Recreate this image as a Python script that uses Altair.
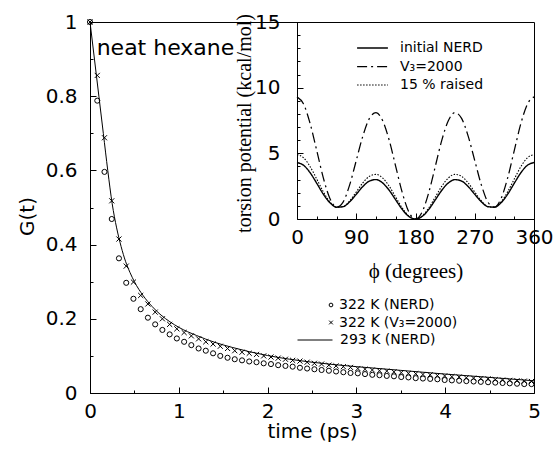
import altair as alt
import pandas as pd

# ---------------- data ----------------
time_ps = [0.000, 0.082, 0.163, 0.245, 0.326, 0.408, 0.489, 0.571, 0.652, 0.734,
           0.815, 0.897, 0.978, 1.060, 1.141, 1.223, 1.304, 1.386, 1.467, 1.549,
           1.630, 1.712, 1.793, 1.875, 1.956, 2.038, 2.119, 2.201, 2.282, 2.364,
           2.445, 2.527, 2.608, 2.690, 2.771, 2.853, 2.934, 3.016, 3.097, 3.179,
           3.260, 3.342, 3.423, 3.505, 3.586, 3.668, 3.749, 3.831, 3.912, 3.994,
           4.075, 4.157, 4.238, 4.320, 4.401, 4.483, 4.564, 4.646, 4.727, 4.809,
           4.890, 4.972]

g_322_nerd = [1.000, 0.788, 0.596, 0.469, 0.363, 0.297, 0.254, 0.226, 0.203, 0.185,
              0.170, 0.158, 0.147, 0.138, 0.129, 0.120, 0.114, 0.107, 0.100, 0.095,
              0.091, 0.088, 0.085, 0.083, 0.080, 0.078, 0.075, 0.073, 0.071, 0.068,
              0.066, 0.064, 0.062, 0.060, 0.058, 0.056, 0.054, 0.053, 0.051, 0.049,
              0.048, 0.046, 0.045, 0.043, 0.042, 0.040, 0.039, 0.038, 0.037, 0.035,
              0.034, 0.033, 0.032, 0.031, 0.030, 0.029, 0.028, 0.027, 0.026, 0.025,
              0.024, 0.024]

g_322_v3 = [1.000, 0.856, 0.688, 0.518, 0.415, 0.342, 0.299, 0.263, 0.240, 0.218,
            0.200, 0.185, 0.173, 0.163, 0.154, 0.146, 0.138, 0.132, 0.126, 0.120,
            0.114, 0.110, 0.107, 0.104, 0.100, 0.097, 0.094, 0.091, 0.088, 0.086,
            0.083, 0.080, 0.078, 0.075, 0.073, 0.071, 0.069, 0.066, 0.064, 0.062,
            0.060, 0.059, 0.057, 0.055, 0.053, 0.052, 0.050, 0.049, 0.047, 0.046,
            0.044, 0.043, 0.041, 0.040, 0.039, 0.038, 0.036, 0.035, 0.034, 0.033,
            0.032, 0.031]

line_time_ps = [0.0, 0.05, 0.1, 0.15, 0.2, 0.25, 0.3, 0.35, 0.4, 0.45, 0.5, 0.6, 0.7,
                0.8, 0.9, 1.0, 1.2, 1.4, 1.6, 1.8, 2.0, 2.5, 3.0, 3.5, 4.0, 4.5, 5.0]
g_293_nerd = [1.000, 0.900, 0.800, 0.700, 0.600, 0.510, 0.445, 0.395, 0.355, 0.325,
              0.300, 0.262, 0.233, 0.210, 0.192, 0.177, 0.155, 0.137, 0.123, 0.111,
              0.101, 0.083, 0.071, 0.061, 0.051, 0.042, 0.033]

phi_deg = [0, 10, 20, 30, 40, 50, 60, 70, 80, 90, 100, 110, 120, 130, 140, 150, 160, 170,
           180, 190, 200, 210, 220, 230, 240, 250, 260, 270, 280, 290, 300, 310, 320,
           330, 340, 350, 360]
v_initial_nerd = [4.30, 4.09, 3.52, 2.72, 1.89, 1.24, 0.90, 0.94, 1.31, 1.88, 2.47, 2.89,
                  3.00, 2.75, 2.19, 1.45, 0.72, 0.19, 0.00, 0.19, 0.72, 1.45, 2.19, 2.75,
                  3.00, 2.89, 2.47, 1.88, 1.31, 0.94, 0.90, 1.24, 1.89, 2.72, 3.52, 4.09,
                  4.30]
v_v3_2000 = [9.30, 8.75, 7.26, 5.21, 3.13, 1.56, 0.90, 1.29, 2.60, 4.45, 6.31, 7.66,
             8.10, 7.50, 6.01, 3.99, 1.99, 0.53, 0.00, 0.53, 1.99, 3.99, 6.01, 7.50,
             8.10, 7.66, 6.31, 4.45, 2.60, 1.29, 0.90, 1.56, 3.13, 5.21, 7.26, 8.75,
             9.30]
v_raised = [4.90, 4.66, 3.98, 3.04, 2.07, 1.30, 0.90, 0.94, 1.38, 2.05, 2.75, 3.25,
            3.40, 3.13, 2.50, 1.66, 0.83, 0.22, 0.00, 0.22, 0.83, 1.66, 2.50, 3.13,
            3.40, 3.25, 2.75, 2.05, 1.38, 0.94, 0.90, 1.30, 2.07, 3.04, 3.98, 4.66,
            4.90]

point_series = ["322 K (NERD)", "322 K (V\u2083=2000)"]
line_series = ["293 K (NERD)"]
torsion_series = ["initial NERD", "V\u2083=2000", "15 % raised"]

x_major_main = [0, 1, 2, 3, 4, 5]
x_minor_main = [0.5, 1.5, 2.5, 3.5, 4.5]
y_major_main = [0, 0.2, 0.4, 0.6, 0.8, 1]
y_minor_main = [0.1, 0.3, 0.5, 0.7, 0.9]
x_major_inset = [0, 90, 180, 270, 360]
x_minor_inset = [30, 60, 120, 150, 210, 240, 300, 330]
y_major_inset = [0, 5, 10, 15]
y_minor_inset = [1, 2, 3, 4, 6, 7, 8, 9, 11, 12, 13, 14]

# ---------------- tables ----------------
pts_df = pd.DataFrame({
    "t": time_ps + time_ps,
    "G": g_322_nerd + g_322_v3,
    "series": [point_series[0]] * len(time_ps) + [point_series[1]] * len(time_ps),
})
line_df = pd.DataFrame({"t": line_time_ps, "G": g_293_nerd,
                        "series": line_series * len(line_time_ps)})
tors_df = pd.DataFrame({
    "phi": phi_deg * 3,
    "V": v_initial_nerd + v_v3_2000 + v_raised,
    "curve": [torsion_series[0]] * len(phi_deg) + [torsion_series[1]] * len(phi_deg)
             + [torsion_series[2]] * len(phi_deg),
})
note_df = pd.DataFrame({"text": ["neat hexane"]})

SANS = "DejaVu Sans"
SERIF = "Liberation Serif"
W, H = 444, 371
IN_X0 = 207      # inset left edge inside plot (px)
IN_Y0 = 197      # inset bottom edge inside plot (px)
MAJOR = 6
MINOR = 3

xs_main = alt.Scale(domain=[0, 5], nice=False, zero=False)
ys_main = alt.Scale(domain=[0, 1], nice=False, zero=False)
xs_in = alt.Scale(domain=[0, 360], range=[IN_X0, W], nice=False, zero=False)
ys_in = alt.Scale(domain=[0, 15], range=[IN_Y0, 0], nice=False, zero=False)

LABEL_EXPR = "format(datum.value, '~g')"
INWARD = alt.ExprRef(expr=str(-MAJOR))


def tick_axis(orient, values, size, base_offset=0):
    return alt.Axis(orient=orient, values=values, offset=base_offset - size,
                    ticks=True, tickSize=size, tickColor="black", tickWidth=1,
                    labels=False, domain=False, grid=False, title=None)


# ---------------- main plot ----------------
main_x_axis = alt.Axis(orient="bottom", values=x_major_main, ticks=True,
                       tickSize=INWARD, tickColor="black", tickWidth=1,
                       domainColor="black", domainWidth=1, labelFont=SANS,
                       labelFontSize=20, labelColor="black", labelPadding=8 + MAJOR,
                       labelFlush=False, labelOverlap=False, labelExpr=LABEL_EXPR,
                       grid=False, title="time (ps)", titleFont=SANS,
                       titleFontSize=20, titleFontWeight="normal", titleColor="black",
                       titleBaseline="alphabetic", titleY=44)
main_y_axis = alt.Axis(orient="left", values=y_major_main, ticks=True,
                       tickSize=INWARD, tickColor="black", tickWidth=1,
                       domainColor="black", domainWidth=1, labelFont=SANS,
                       labelFontSize=20, labelColor="black", labelPadding=13 + MAJOR,
                       labelFlush=False, labelOverlap=False, labelExpr=LABEL_EXPR,
                       grid=False, title="G(t)", titleFont=SANS, titleFontSize=20,
                       titleFontWeight="normal", titleColor="black",
                       titleBaseline="alphabetic", titleAlign="center",
                       titleX=-57, titleY=194)

CROSS = "M-1,-1L1,1M-1,1L1,-1"
WIDE_STROKE = "M-2.2,0L2.2,0"

points = alt.Chart(pts_df).mark_point(filled=False, strokeWidth=1, size=26,
                                      color="black", opacity=1).encode(
    x=alt.X("t:Q", scale=xs_main, axis=main_x_axis),
    y=alt.Y("G:Q", scale=ys_main, axis=main_y_axis),
    shape=alt.Shape("series:N",
                    scale=alt.Scale(domain=point_series, range=["circle", CROSS]),
                    legend=alt.Legend(title=None, orient="none", legendX=234,
                                      legendY=276, symbolSize=14,
                                      symbolStrokeColor="black", symbolStrokeWidth=1,
                                      symbolFillColor="transparent",
                                      labelFont=SANS, labelFontSize=14,
                                      labelColor="black", labelOffset=1,
                                      rowPadding=3.5, padding=0)),
)

line = alt.Chart(line_df).mark_line(strokeWidth=1, interpolate="monotone").encode(
    x=alt.X("t:Q", scale=xs_main, axis=None),
    y=alt.Y("G:Q", scale=ys_main, axis=None),
    color=alt.Color("series:N", scale=alt.Scale(domain=line_series, range=["black"]),
                    legend=alt.Legend(title=None, orient="none", legendX=207,
                                      legendY=300, symbolType="stroke",
                                      symbolSize=1225, symbolStrokeWidth=1,
                                      labelFont=SANS, labelFontSize=14,
                                      labelColor="black", labelOffset=7,
                                      padding=0)),
)

note = alt.Chart(note_df).mark_text(align="left", baseline="alphabetic", font=SANS,
                                    fontSize=22, color="black").encode(
    x=alt.XDatum(0.075, type="quantitative", scale=xs_main, axis=None),
    y=alt.YDatum(0.911, type="quantitative", scale=ys_main, axis=None),
    text="text:N",
)

main_ticks_minor = alt.Chart(pts_df).mark_point(opacity=0).encode(
    x=alt.X("t:Q", scale=xs_main, axis=tick_axis("bottom", x_minor_main, MINOR)),
    y=alt.Y("G:Q", scale=ys_main, axis=tick_axis("left", y_minor_main, MINOR)),
)

main_group = alt.layer(points, line, note,
                       main_ticks_minor).resolve_axis(x="independent", y="independent")

# ---------------- inset ----------------
inset_x_off = -(H - IN_Y0)
inset_y_off = -IN_X0

inset_x_axis = alt.Axis(orient="bottom", offset=inset_x_off, values=x_major_inset,
                        ticks=True, tickSize=INWARD, tickColor="black", tickWidth=1,
                        domainColor="black", domainWidth=1,
                        labelFont=SANS, labelFontSize=20, labelColor="black",
                        labelPadding=8 + MAJOR, labelFlush=False, labelOverlap=False,
                        labelExpr=LABEL_EXPR, grid=False, title="\u03d5 (degrees)",
                        titleFont=SERIF, titleFontSize=21, titleFontWeight="normal",
                        titleColor="black", titleBaseline="alphabetic", titleY=58)
inset_y_axis = alt.Axis(orient="left", offset=inset_y_off, values=y_major_inset,
                        ticks=True, tickSize=INWARD, tickColor="black", tickWidth=1,
                        domainColor="black", domainWidth=1,
                        labelFont=SANS, labelFontSize=20, labelColor="black",
                        labelPadding=17 + MAJOR, labelFlush=False, labelOverlap=False,
                        labelExpr=LABEL_EXPR, grid=False,
                        title="torsion potential (kcal/mol)", titleFont=SERIF,
                        titleFontSize=20, titleFontWeight="normal", titleColor="black",
                        titleBaseline="alphabetic", titleAlign="center",
                        titleX=-47, titleY=101)

tors_lines = alt.Chart(tors_df).mark_line(interpolate="monotone", color="black").encode(
    x=alt.X("phi:Q", scale=xs_in, axis=inset_x_axis),
    y=alt.Y("V:Q", scale=ys_in, axis=inset_y_axis),
    strokeDash=alt.StrokeDash(
        "curve:N",
        scale=alt.Scale(domain=torsion_series, range=[[1, 0], [10, 4, 2, 4], [1.5, 1.5]]),
        legend=alt.Legend(title=None, orient="none", legendX=274.5, legendY=18,
                          symbolType=WIDE_STROKE, symbolSize=196,
                          symbolStrokeColor="black", symbolStrokeWidth=1.2,
                          labelFont=SANS, labelFontSize=14, labelColor="black",
                          labelOffset=19.5, rowPadding=3.5, padding=0)),
    strokeWidth=alt.StrokeWidth("curve:N",
                                scale=alt.Scale(domain=torsion_series,
                                                range=[1.4, 1.1, 1.0]),
                                legend=None),
)

inset_ticks_minor = alt.Chart(tors_df).mark_point(opacity=0).encode(
    x=alt.X("phi:Q", scale=xs_in,
            axis=tick_axis("bottom", x_minor_inset, MINOR, inset_x_off)),
    y=alt.Y("V:Q", scale=ys_in,
            axis=tick_axis("left", y_minor_inset, MINOR, inset_y_off)),
)

inset_group = alt.layer(tors_lines,
                        inset_ticks_minor).resolve_axis(x="independent", y="independent")

chart = alt.layer(main_group, inset_group).resolve_scale(
    x="independent", y="independent"
).properties(
    width=W, height=H,
    padding={"left": 90, "top": 22, "right": 21, "bottom": 58},
    autosize=alt.AutoSizeParams(type="none"),
    background="white",
).configure_view(stroke="black", strokeWidth=1)

chart.save("out.html", embed_options={"renderer": "svg", "actions": False})
